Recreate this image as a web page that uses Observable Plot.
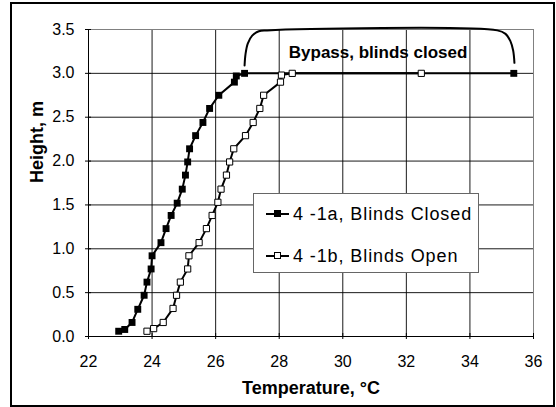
<!DOCTYPE html>
<html>
<head>
<meta charset="utf-8">
<script src="https://cdn.jsdelivr.net/npm/d3@7"></script>
<script src="https://cdn.jsdelivr.net/npm/@observablehq/plot@0.6"></script>
<style>
  html, body { margin: 0; padding: 0; background: #fff; }
  #wrap { position: relative; width: 556px; height: 407px; overflow: hidden; font-family: "Liberation Sans", Arial, sans-serif; }
  #wrap svg { position: absolute; left: 0; top: 0; }
  #border { position: absolute; left: 10px; top: 2px; width: 541px; height: 401px; border: 2px solid #000; pointer-events: none; }
  #legend { position: absolute; left: 253px; top: 193px; width: 226px; height: 80px; box-sizing: border-box; border: 1px solid #666; background: #fff; }
  .row { position: absolute; left: 0; height: 24px; width: 100%; }
  .samp { position: absolute; left: 12px; top: 11px; width: 23px; height: 2px; background: #000; }
  .sq { position: absolute; left: 8px; top: -3px; width: 7px; height: 7px; box-sizing: border-box; border: 1px solid #000; }
  .lab { position: absolute; left: 39px; top: 0; line-height: 24px; font-size: 18px; letter-spacing: 0.9px; color: #000; white-space: nowrap; }
</style>
</head>
<body>
<div id="wrap"></div>
<script>
// Series 4-1a, Blinds Closed
const closedTemp   = [22.95, 23.14, 23.37, 23.55, 23.75, 23.84, 23.97, 24.00, 24.28, 24.44, 24.60, 24.79, 24.95, 25.05, 25.12, 25.18, 25.37, 25.60, 25.81, 26.10, 26.59, 26.65, 26.91, 35.38];
const closedHeight = [0.06, 0.08, 0.16, 0.31, 0.47, 0.62, 0.77, 0.92, 1.07, 1.23, 1.38, 1.52, 1.68, 1.84, 1.99, 2.14, 2.29, 2.44, 2.60, 2.75, 2.90, 2.97, 3.00, 3.00];
// Series 4-1b, Blinds Open
const openTemp   = [23.84, 24.05, 24.35, 24.66, 24.77, 24.89, 25.12, 25.16, 25.48, 25.71, 25.89, 26.07, 26.17, 26.34, 26.44, 26.57, 26.94, 27.18, 27.39, 27.51, 28.04, 28.07, 28.41, 32.47];
const openHeight = [0.06, 0.09, 0.16, 0.32, 0.47, 0.62, 0.77, 0.92, 1.07, 1.23, 1.38, 1.53, 1.68, 1.84, 1.99, 2.14, 2.29, 2.44, 2.60, 2.75, 2.90, 2.98, 3.00, 3.00];
// Bracket annotation (traced outline)
const bracketTemp   = [26.91, 26.94, 27.01, 27.15, 27.36, 27.62, 34.86, 35.12, 35.27, 35.36, 35.40];
const bracketHeight = [3.09, 3.22, 3.34, 3.43, 3.48, 3.49, 3.49, 3.45, 3.37, 3.26, 3.12];
const annotation = {text: "Bypass, blinds closed", temp: 31.11, height: 3.24};
// Axes
const xTicks = [22, 24, 26, 28, 30, 32, 34, 36];
const yTicks = [0, 0.5, 1, 1.5, 2, 2.5, 3, 3.5];
const xLabel = "Temperature, °C";
const yLabel = "Height, m";
const legendItems = [
  {label: "4 -1a, Blinds Closed", fill: "#000"},
  {label: "4 -1b, Blinds Open", fill: "#fff"}
];

const closed = closedTemp.map((t, i) => ({t, h: closedHeight[i]}));
const open = openTemp.map((t, i) => ({t, h: openHeight[i]}));
const bracket = bracketTemp.map((t, i) => ({t, h: bracketHeight[i]}));

const chart = Plot.plot({
  width: 556, height: 407,
  marginLeft: 88, marginRight: 23, marginTop: 29, marginBottom: 71,
  x: {domain: [22, 36], ticks: xTicks},
  y: {domain: [0, 3.5], ticks: yTicks},
  style: {fontFamily: "'Liberation Sans', Arial, sans-serif", fontSize: "16px", color: "#000", background: "transparent", overflow: "visible"},
  marks: [
    Plot.gridX(xTicks, {stroke: "#000", strokeOpacity: 0.9}),
    Plot.gridY(yTicks, {stroke: "#000", strokeOpacity: 0.9}),
    Plot.frame({stroke: "#808080"}),
    Plot.axisX({ticks: xTicks, tickSize: 6, dy: -3, tickFormat: () => "", stroke: "#000"}),
    Plot.axisX({ticks: xTicks, tickSize: 0, tickPadding: 19, tickFormat: d3.format("d"), letterSpacing: "1px"}),
    Plot.axisY({ticks: yTicks, tickSize: 6, dx: 3, tickFormat: () => "", stroke: "#000"}),
    Plot.axisY({ticks: yTicks, tickSize: 0, tickPadding: 14, tickFormat: d3.format(".1f")}),
    Plot.ruleY([0], {stroke: "#000"}),
    Plot.ruleX([22], {stroke: "#000"}),
    Plot.text([xLabel], {frameAnchor: "bottom", lineAnchor: "bottom", dy: 57, fontWeight: "bold", fontSize: 18, letterSpacing: "0.8px"}),
    Plot.text([yLabel], {frameAnchor: "left", lineAnchor: "bottom", rotate: -90, dx: -46, fontWeight: "bold", fontSize: 18, letterSpacing: "0.8px"}),
    Plot.line(bracket, {x: "t", y: "h", curve: "catmull-rom", stroke: "#000", strokeWidth: 2}),
    Plot.text([annotation], {x: "temp", y: "height", text: "text", fontWeight: "bold", fontSize: 17, letterSpacing: "0.6px"}),
    Plot.line(closed, {x: "t", y: "h", stroke: "#000", strokeWidth: 2}),
    Plot.line(open, {x: "t", y: "h", stroke: "#000", strokeWidth: 2}),
    Plot.dot(closed, {x: "t", y: "h", symbol: "square", r: 3.9, fill: "#000", stroke: "none"}),
    Plot.dot(open, {x: "t", y: "h", symbol: "square", r: 3.5, fill: "#fff", stroke: "#000", strokeWidth: 1})
  ]
});

const wrap = document.getElementById("wrap");
wrap.appendChild(chart);

const legend = document.createElement("div");
legend.id = "legend";
legendItems.forEach((item, i) => {
  const row = document.createElement("div");
  row.className = "row";
  row.style.top = (8 + i * 42) + "px";
  const samp = document.createElement("div");
  samp.className = "samp";
  const sq = document.createElement("div");
  sq.className = "sq";
  sq.style.background = item.fill;
  samp.appendChild(sq);
  const lab = document.createElement("div");
  lab.className = "lab";
  lab.textContent = item.label;
  row.appendChild(samp);
  row.appendChild(lab);
  legend.appendChild(row);
});
wrap.appendChild(legend);

const border = document.createElement("div");
border.id = "border";
wrap.appendChild(border);
</script>
</body>
</html>
